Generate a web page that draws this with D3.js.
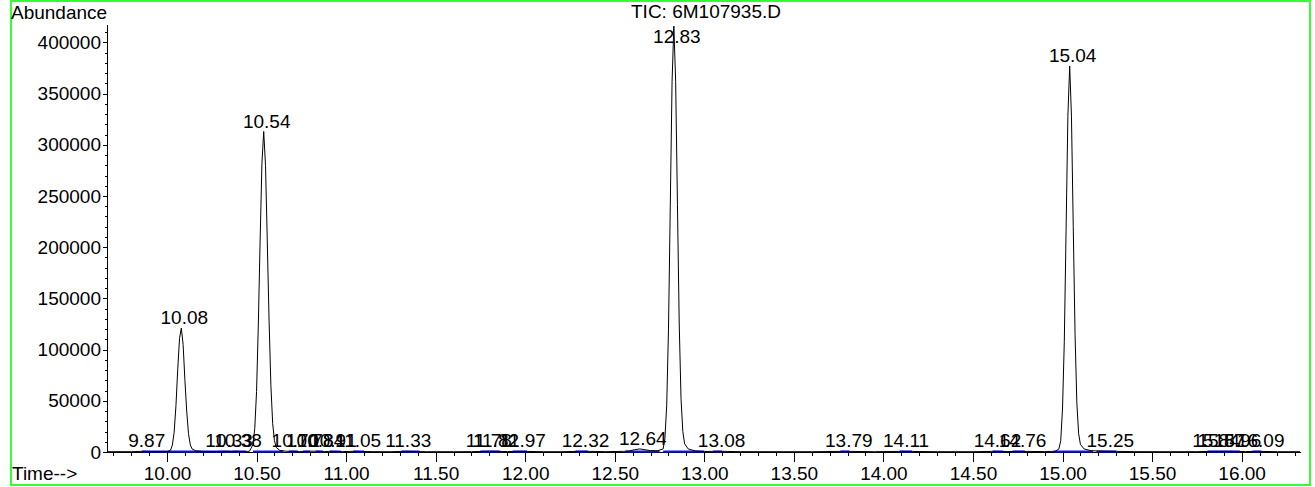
<!DOCTYPE html>
<html>
<head>
<meta charset="utf-8">
<script src="https://cdn.jsdelivr.net/npm/d3@7"></script>
<style>
  body { margin: 0; background: #fff; }
  text { font-family: "Liberation Sans", Arial, sans-serif; font-size: 19px; fill: #000; }
</style>
</head>
<body>
<script>
// Total ion chromatogram, sampled trace (retention time in minutes, abundance)
const traceTime = [
  9.665, 9.75, 9.80, 9.87, 9.93, 10.00, 10.02, 10.03, 10.04, 10.05, 10.06, 10.07, 10.08, 10.09, 10.10,
  10.11, 10.12, 10.13, 10.14, 10.16, 10.20, 10.26, 10.33, 10.36, 10.38, 10.43, 10.46, 10.48, 10.49,
  10.50, 10.51, 10.52, 10.53, 10.54, 10.55, 10.56, 10.57, 10.58, 10.59, 10.60, 10.61, 10.63, 10.67,
  10.70, 10.74, 10.78, 10.84, 10.88, 10.91, 10.98, 11.05, 11.15, 11.25, 11.33, 11.45, 11.60, 11.70,
  11.78, 11.82, 11.90, 11.97, 12.10, 12.20, 12.32, 12.45, 12.55, 12.58, 12.61, 12.64, 12.67, 12.70,
  12.74, 12.77, 12.78, 12.79, 12.80, 12.81, 12.82, 12.83, 12.84, 12.85, 12.86, 12.87, 12.88, 12.89,
  12.91, 12.95, 13.00, 13.08, 13.20, 13.40, 13.60, 13.79, 13.95, 14.11, 14.30, 14.50, 14.62, 14.69,
  14.76, 14.90, 14.96, 14.98, 14.99, 15.00, 15.01, 15.02, 15.03, 15.04, 15.05, 15.06, 15.07, 15.08,
  15.09, 15.10, 15.12, 15.16, 15.25, 15.40, 15.60, 15.75, 15.84, 15.87, 15.96, 16.02, 16.09, 16.20, 16.326
];
const traceAbundance = [
  300, 350, 300, 700, 350, 300, 1800, 6800, 19400, 45400, 81000, 111000, 121000, 105000, 70000,
  40000, 18000, 7000, 3000, 1200, 500, 400, 700, 500, 800, 500, 700, 7000, 23000,
  59000, 125000, 207000, 282000, 313000, 280000, 205000, 128000, 65000, 28000, 11000, 4500, 1500, 700,
  800, 500, 700, 800, 450, 700, 400, 700, 350, 300, 700, 300, 300, 350,
  700, 750, 400, 700, 300, 300, 700, 350, 600, 1000, 2200, 3000, 2200, 1300,
  1200, 3000, 13000, 45000, 120000, 240000, 362000, 416000, 362000, 242000, 125000, 52000, 20000, 8000,
  3000, 1000, 500, 700, 350, 300, 300, 650, 300, 650, 300, 300, 650, 400,
  650, 400, 700, 3000, 11000, 42000, 108000, 217000, 328000, 377000, 328000, 220000, 115000, 48000,
  18000, 7500, 3000, 1200, 800, 350, 300, 350, 650, 650, 650, 400, 650, 300, 300
];

// Integrated peaks: label, retention time, apex abundance, integration start / end
const peakLabels = ["9.87","10.08","10.33","10.38","10.54","10.70","10.78","10.84","10.91","11.05",
  "11.33","11.78","11.82","11.97","12.32","12.64","12.83","13.08","13.79","14.11",
  "14.62","14.76","15.04","15.25","15.84","15.87","15.96","16.09"];
const peakTimes = [9.87,10.08,10.33,10.38,10.54,10.70,10.78,10.84,10.91,11.05,
  11.33,11.78,11.82,11.97,12.32,12.64,12.83,13.08,13.79,14.11,
  14.62,14.76,15.04,15.25,15.84,15.87,15.96,16.09];
const peakHeights = [700,121000,700,800,313000,800,700,800,700,700,
  700,700,750,700,700,3000,416000,700,650,650,
  650,650,377000,800,650,650,650,650];
const baseStart = [9.86,10.00,10.20,10.36,10.48,10.68,10.76,10.83,10.91,11.04,
  11.31,11.75,11.80,11.93,12.28,12.56,12.77,13.05,13.76,14.09,
  14.61,14.72,14.95,15.19,15.81,15.87,15.93,16.06];
const baseEnd = [10.00,10.20,10.36,10.44,10.65,10.73,10.80,10.87,10.97,11.10,
  11.41,11.80,11.86,12.01,12.35,12.75,13.00,13.10,13.81,14.16,
  14.67,14.79,15.17,15.30,15.87,15.93,15.99,16.11];

// Axis ticks
const xMajorTicks = [10.00, 10.50, 11.00, 11.50, 12.00, 12.50, 13.00, 13.50, 14.00, 14.50, 15.00, 15.50, 16.00];
const yMajorTicks = [0, 50000, 100000, 150000, 200000, 250000, 300000, 350000, 400000];
const titleText = "TIC: 6M107935.D";

const W = 1315, H = 487;
const svg = d3.select("body").append("svg").attr("width", W).attr("height", H);

// frame
svg.append("rect").attr("x", 11).attr("y", 1).attr("width", 1299).attr("height", 484)
  .attr("fill", "none").attr("stroke", "#33ff33").attr("stroke-width", 2);

const x = d3.scaleLinear().domain([9.665, 16.326]).range([107, 1300]);
const y = d3.scaleLinear().domain([0, 418000]).range([452, 24]);

// x axis: minor ticks every 0.1 min, labelled major ticks every 0.5 min
const xMinor = d3.range(97, 164).map(d => d / 10).filter(d => Math.round(d * 10) % 5 !== 0);
const gxMinor = svg.append("g").attr("transform", `translate(0,${y(0)})`)
  .call(d3.axisBottom(x).tickValues(xMinor).tickSize(4).tickSizeOuter(0).tickFormat(""));
const gx = svg.append("g").attr("transform", `translate(0,${y(0)})`)
  .call(d3.axisBottom(x).tickValues(xMajorTicks).tickSize(10).tickSizeOuter(0).tickPadding(5)
    .tickFormat(d3.format(".2f")));

// y axis: minor ticks every 10000, labelled major ticks every 50000
const yMinor = d3.range(0, 418000, 10000).filter(d => d % 50000 !== 0);
const gyMinor = svg.append("g").attr("transform", `translate(${x.range()[0]},0)`)
  .call(d3.axisLeft(y).tickValues(yMinor).tickSize(2).tickSizeOuter(0).tickFormat(""));
const gy = svg.append("g").attr("transform", `translate(${x.range()[0]},0)`)
  .call(d3.axisLeft(y).tickValues(yMajorTicks).tickSize(4).tickSizeOuter(0).tickPadding(2)
    .tickFormat(d3.format("d")));

svg.selectAll(".domain, .tick line").attr("stroke", "#000").attr("shape-rendering", "crispEdges");
svg.selectAll(".tick text").attr("font-family", null).attr("font-size", null).attr("fill", "#000");
[gx, gxMinor, gy, gyMinor].forEach(g => g.attr("font-family", null).attr("font-size", null));

// integration baselines
svg.append("g").selectAll("line").data(baseStart).join("line")
  .attr("x1", d => x(d)).attr("x2", (d, i) => x(baseEnd[i]))
  .attr("y1", y(0) - 0.5).attr("y2", y(0) - 0.5)
  .attr("stroke", "#1010ff").attr("stroke-width", 2);

// chromatogram trace
const line = d3.line().x(d => x(d[0])).y(d => y(d[1]));
svg.append("path").datum(traceTime.map((t, i) => [t, traceAbundance[i]]))
  .attr("d", line).attr("fill", "none").attr("stroke", "#000").attr("stroke-width", 1)
  .attr("stroke-linejoin", "round");

// retention time labels above each peak apex
svg.append("g").selectAll("text").data(peakLabels).join("text")
  .attr("x", (d, i) => x(peakTimes[i]) + 3)
  .attr("y", (d, i) => Math.max(y(peakHeights[i]) - 4, 43))
  .attr("text-anchor", "middle")
  .text(d => d);

// titles
svg.append("text").attr("x", 706).attr("y", 18).attr("text-anchor", "middle").text(titleText);
svg.append("text").attr("x", 11).attr("y", 19).text("Abundance");
svg.append("text").attr("x", 12).attr("y", 480).text("Time-->");
</script>
</body>
</html>
